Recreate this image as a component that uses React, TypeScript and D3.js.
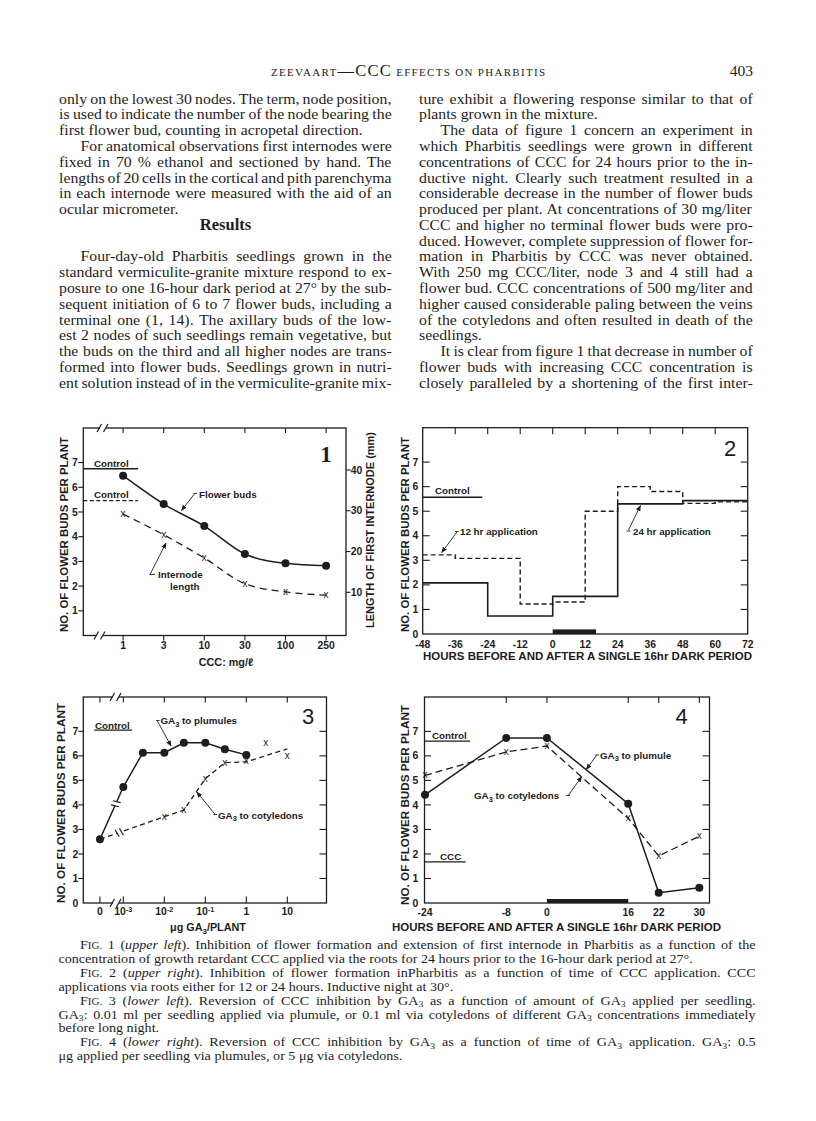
import React from "react";
import * as d3 from "d3";

const INK = "#1d1d1d";
const SANS = "'Liberation Sans', Arial, Helvetica, sans-serif";
const SERIF = "'Liberation Serif', 'Times New Roman', serif";

// ---------------- Figure 1 ----------------
const fig1Conc = ["1", "3", "10", "30", "100", "250"];
const fig1FlowerBuds = [6.47, 5.32, 4.43, 3.3, 2.92, 2.82];
const fig1Internode = [29.2, 24.1, 18.4, 12.1, 10.1, 9.3];
const fig1ControlBuds = 6.75;
const fig1ControlInternode = 32.5;
const fig1ControlSpan = [-0.98, 0.37];
const fig1BudTicks = [1, 2, 3, 4, 5, 6, 7];
const fig1MmTicks = [10, 20, 30, 40];

// ---------------- Figure 2 ----------------
const fig2Edges = [-48, -36, -24, -12, 0, 12, 24, 36, 48, 60, 72];
const fig2App24 = [2.08, 2.08, 0.73, 0.73, 1.53, 1.53, 5.3, 5.3, 5.43, 5.43];
const fig2App12 = [3.22, 3.08, 3.08, 1.22, 1.3, 5.0, 6.0, 5.8, 5.32, 5.38];
const fig2Control = 5.57;
const fig2ControlSpan = [-48, -26];
const fig2BudTicks = [0, 1, 2, 3, 4, 5, 6, 7];
const fig2HourTicks = [-48, -36, -24, -12, 0, 12, 24, 36, 48, 60, 72];
const darkPeriod = [0, 16];

// ---------------- Figure 3 ----------------
const fig3PlumDose = [0, 0.001, 0.003, 0.01, 0.03, 0.1, 0.3, 1];
const fig3PlumBuds = [2.6, 4.73, 6.13, 6.13, 6.53, 6.53, 6.27, 6.04];
const fig3CotLineDose = [0, 0.01, 0.03, 0.1, 0.3, 1, 10];
const fig3CotLineBuds = [2.6, 3.52, 3.79, 5.07, 5.72, 5.76, 6.28];
const fig3CotMarkDose = [0.01, 0.03, 0.1, 0.3, 1, 3, 10];
const fig3CotMarkBuds = [3.52, 3.79, 5.07, 5.72, 5.8, 6.53, 6.0];
const fig3Control = 7.05;
const fig3ControlSpan = [1.95e-4, 1.62e-3];
const fig3DoseTicks = [0, 0.001, 0.01, 0.1, 1, 10];
const fig3DoseLabels: [string, string][] = [["0", ""], ["10", "-3"], ["10", "-2"], ["10", "-1"], ["1", ""], ["10", ""]];
const fig3BudTicks = [0, 1, 2, 3, 4, 5, 6, 7];

// ---------------- Figure 4 ----------------
const fig4Hours = [-24, -8, 0, 16, 22, 30];
const fig4Plumule = [4.41, 6.73, 6.73, 4.05, 0.42, 0.62];
const fig4Cotyledons = [5.2, 6.16, 6.4, 3.45, 1.92, 2.72];
const fig4Control = 6.6;
const fig4ControlSpan = [-24, -15.1];
const fig4CCC = 1.68;
const fig4CCCSpan = [-24, -16];
const fig4BudTicks = [0, 1, 2, 3, 4, 5, 6, 7];

// ---------------- text ----------------
type BodyLine = { t: string; j?: boolean; ind?: boolean; head?: boolean } | null;
const leftColumn: BodyLine[] = [
  { t: "only on the lowest 30 nodes. The term, node position,", j: true },
  { t: "is used to indicate the number of the node bearing the", j: true },
  { t: "first flower bud, counting in acropetal direction." },
  { t: "For anatomical observations first internodes were", j: true, ind: true },
  { t: "fixed in 70 % ethanol and sectioned by hand. The", j: true },
  { t: "lengths of 20 cells in the cortical and pith parenchyma", j: true },
  { t: "in each internode were measured with the aid of an", j: true },
  { t: "ocular micrometer." },
  { t: "Results", head: true },
  null,
  { t: "Four-day-old Pharbitis seedlings grown in the", j: true, ind: true },
  { t: "standard vermiculite-granite mixture respond to ex-", j: true },
  { t: "posure to one 16-hour dark period at 27° by the sub-", j: true },
  { t: "sequent initiation of 6 to 7 flower buds, including a", j: true },
  { t: "terminal one (1, 14). The axillary buds of the low-", j: true },
  { t: "est 2 nodes of such seedlings remain vegetative, but", j: true },
  { t: "the buds on the third and all higher nodes are trans-", j: true },
  { t: "formed into flower buds. Seedlings grown in nutri-", j: true },
  { t: "ent solution instead of in the vermiculite-granite mix-", j: true },
];
const rightColumn: BodyLine[] = [
  { t: "ture exhibit a flowering response similar to that of", j: true },
  { t: "plants grown in the mixture." },
  { t: "The data of figure 1 concern an experiment in", j: true, ind: true },
  { t: "which Pharbitis seedlings were grown in different", j: true },
  { t: "concentrations of CCC for 24 hours prior to the in-", j: true },
  { t: "ductive night. Clearly such treatment resulted in a", j: true },
  { t: "considerable decrease in the number of flower buds", j: true },
  { t: "produced per plant. At concentrations of 30 mg/liter", j: true },
  { t: "CCC and higher no terminal flower buds were pro-", j: true },
  { t: "duced. However, complete suppression of flower for-", j: true },
  { t: "mation in Pharbitis by CCC was never obtained.", j: true },
  { t: "With 250 mg CCC/liter, node 3 and 4 still had a", j: true },
  { t: "flower bud. CCC concentrations of 500 mg/liter and", j: true },
  { t: "higher caused considerable paling between the veins", j: true },
  { t: "of the cotyledons and often resulted in death of the", j: true },
  { t: "seedlings." },
  { t: "It is clear from figure 1 that decrease in number of", j: true, ind: true },
  { t: "flower buds with increasing CCC concentration is", j: true },
  { t: "closely paralleled by a shortening of the first inter-", j: true },
];

type Seg = { t: string; k?: "i" | "sm" | "sub" };
const captionLines: { segs: Seg[]; ind?: boolean; j?: boolean }[] = [
  { ind: true, j: true, segs: [{ t: "F" }, { t: "IG.", k: "sm" }, { t: " 1 (" }, { t: "upper left", k: "i" }, { t: "). Inhibition of flower formation and extension of first internode in Pharbitis as a function of the" }] },
  { segs: [{ t: "concentration of growth retardant CCC applied via the roots for 24 hours prior to the 16-hour dark period at 27°." }] },
  { ind: true, j: true, segs: [{ t: "F" }, { t: "IG.", k: "sm" }, { t: " 2 (" }, { t: "upper right", k: "i" }, { t: "). Inhibition of flower formation inPharbitis as a function of time of CCC application. CCC" }] },
  { segs: [{ t: "applications via roots either for 12 or 24 hours. Inductive night at 30°." }] },
  { ind: true, j: true, segs: [{ t: "F" }, { t: "IG.", k: "sm" }, { t: " 3 (" }, { t: "lower left", k: "i" }, { t: "). Reversion of CCC inhibition by GA" }, { t: "3", k: "sub" }, { t: " as a function of amount of GA" }, { t: "3", k: "sub" }, { t: " applied per seedling." }] },
  { j: true, segs: [{ t: "GA" }, { t: "3", k: "sub" }, { t: ": 0.01 ml per seedling applied via plumule, or 0.1 ml via cotyledons of different GA" }, { t: "3", k: "sub" }, { t: " concentrations immediately" }] },
  { segs: [{ t: "before long night." }] },
  { ind: true, j: true, segs: [{ t: "F" }, { t: "IG.", k: "sm" }, { t: " 4 (" }, { t: "lower right", k: "i" }, { t: "). Reversion of CCC inhibition by GA" }, { t: "3", k: "sub" }, { t: " as a function of time of GA" }, { t: "3", k: "sub" }, { t: " application. GA" }, { t: "3", k: "sub" }, { t: ": 0.5" }] },
  { segs: [{ t: "μg applied per seedling via plumules, or 5 μg via cotyledons." }] },
];

// ---------------- helpers ----------------
let ctx: CanvasRenderingContext2D | null = null;
function measure(s: string, font: string): number {
  if (!ctx) ctx = document.createElement("canvas").getContext("2d");
  if (!ctx) return s.length * 6;
  ctx.font = font;
  return ctx.measureText(s).width;
}

const BODY_SIZE = 14;
const BODY_STRETCH = 1.13;
const CAP_SIZE = 12.6;
const CAP_STRETCH = 1.12;
function segFont(k?: string) {
  if (k === "i") return `italic ${CAP_SIZE}px "Liberation Serif"`;
  if (k === "sm") return `${CAP_SIZE * 0.78}px "Liberation Serif"`;
  if (k === "sub") return `${CAP_SIZE * 0.68}px "Liberation Serif"`;
  return `${CAP_SIZE}px "Liberation Serif"`;
}

function Column({ lines, x, width }: { lines: BodyLine[]; x: number; width: number }) {
  return (
    <g fontFamily={SERIF} fontSize={BODY_SIZE} fill={INK}>
      {lines.map((ln, i) => {
        if (!ln) return null;
        const y = 103.6 + i * 15.78;
        if (ln.head) {
          return (
            <text key={i} x={x + width / 2} y={y + 0.5} textAnchor="middle" fontWeight="bold" fontSize={16.5}>
              {ln.t}
            </text>
          );
        }
        const x0 = ln.ind ? x + 21.5 : x;
        const w = x + width - x0;
        const words = ln.t.trim().split(/\s+/);
        const s = words.join(" ");
        let ws = 0;
        if (ln.j && words.length > 1) {
          const nat = measure(s, `${BODY_SIZE}px "Liberation Serif"`);
          ws = (w / BODY_STRETCH - nat) / (words.length - 1);
        }
        return (
          <text key={i} transform={`translate(${x0},${y}) scale(${BODY_STRETCH},1)`} style={{ wordSpacing: `${ws}px` }}>
            {s}
          </text>
        );
      })}
    </g>
  );
}

function Caption() {
  const left = 58.5, right = 756, indent = 80;
  return (
    <g fontFamily={SERIF} fontSize={CAP_SIZE} fill={INK}>
      {captionLines.map((ln, i) => {
        const y = 949 + i * 13.9;
        const x0 = ln.ind ? indent : left;
        const segs = ln.segs.map((s) => ({ ...s, t: s.t.replace(/\s+/g, " ") }));
        let nat = 0, spaces = 0;
        segs.forEach((s) => {
          nat += measure(s.t, segFont(s.k));
          spaces += (s.t.match(/ /g) || []).length;
        });
        const ws = ln.j && spaces ? ((right - x0) / CAP_STRETCH - nat) / spaces : 0;
        let shift = 0;
        return (
          <text key={i} transform={`translate(${x0},${y}) scale(${CAP_STRETCH},1)`} style={{ wordSpacing: `${ws}px` }}>
            {segs.map((s, k) => {
              const target = s.k === "sub" ? 2.8 : 0;
              const dy = target - shift;
              shift = target;
              return (
                <tspan
                  key={k}
                  dy={dy !== 0 ? dy : undefined}
                  fontStyle={s.k === "i" ? "italic" : undefined}
                  fontSize={s.k === "sm" ? CAP_SIZE * 0.78 : s.k === "sub" ? CAP_SIZE * 0.68 : undefined}
                >
                  {s.t}
                </tspan>
              );
            })}
          </text>
        );
      })}
    </g>
  );
}

function BreakMark({ cx, cy }: { cx: number; cy: number }) {
  return (
    <g stroke={INK} strokeWidth={1.2}>
      <rect x={cx - 3} y={cy - 2} width={6} height={4} fill="white" stroke="none" />
      <line x1={cx - 6} y1={cy + 4} x2={cx - 1.5} y2={cy - 4} />
      <line x1={cx + 0.5} y1={cy + 4} x2={cx + 5} y2={cy - 4} />
    </g>
  );
}

function LineBreak({ px, py, ang }: { px: number; py: number; ang: number }) {
  return (
    <g transform={`translate(${px},${py}) rotate(${ang})`} stroke={INK} strokeWidth={1.2}>
      <rect x={-2.2} y={-3} width={4.4} height={6} fill="white" stroke="none" />
      <line x1={-3} y1={-4} x2={-1.5} y2={4} />
      <line x1={1.5} y1={-4} x2={3} y2={4} />
    </g>
  );
}

function VText({ x, y, text, len, size = 10.5 }: { x: number; y: number; text: string; len: number; size?: number }) {
  return (
    <text
      transform={`translate(${x},${y}) rotate(-90)`}
      textAnchor="middle"
      dy="0.36em"
      fontFamily={SANS}
      fontWeight="bold"
      fontSize={size}
      textLength={len}
      lengthAdjust="spacingAndGlyphs"
      fill={INK}
    >
      {text}
    </text>
  );
}

function XMark({ x, y }: { x: number; y: number }) {
  return (
    <text x={x} y={y} dy="0.3em" textAnchor="middle" fontFamily={SANS} fontSize={10} fill={INK}>
      x
    </text>
  );
}

const lbl = { fontFamily: SANS, fontWeight: "bold" as const, fontSize: 9.8, fill: INK };
const TICKFS = 10.4;

// ---------------- Figure 1 ----------------
function Fig1() {
  const L = 83.3, R = 346, T = 428, B = 635.5;
  const x = d3.scaleLinear().domain([-0.98, 5.49]).range([L, R]);
  const y = d3.scaleLinear().domain([0, 8.4]).range([B, T]);
  const yMm = d3.scaleLinear().domain([-0.6, 50.3]).range([B, T]);
  const idx = fig1Conc.map((_, i) => i);
  const budPath = d3.line<number>().x((i) => x(i)).y((i) => y(fig1FlowerBuds[i])).curve(d3.curveMonotoneX)(idx) || "";
  const intPath = d3.line<number>().x((i) => x(i)).y((i) => yMm(fig1Internode[i])).curve(d3.curveMonotoneX)(idx) || "";
  return (
    <g>
      <rect x={L} y={T} width={R - L} height={B - T} fill="none" stroke={INK} strokeWidth={1.3} />
      <BreakMark cx={103} cy={T} />
      <BreakMark cx={100} cy={B} />
      <g stroke={INK} strokeWidth={1.1}>
        {idx.map((i) => (
          <g key={i}>
            <line x1={x(i)} x2={x(i)} y1={T} y2={T + 5} />
            <line x1={x(i)} x2={x(i)} y1={B} y2={B + 5} />
          </g>
        ))}
        {fig1BudTicks.map((v) => (
          <line key={v} x1={L - 5} x2={L} y1={y(v)} y2={y(v)} />
        ))}
        {fig1MmTicks.map((v) => (
          <line key={v} x1={R} x2={R + 4.5} y1={yMm(v)} y2={yMm(v)} />
        ))}
      </g>
      <g {...lbl}>
        {idx.map((i) => (
          <text key={i} x={x(i)} y={B + 13} textAnchor="middle" fontSize={TICKFS}>{fig1Conc[i]}</text>
        ))}
        {fig1BudTicks.map((v) => (
          <text key={v} x={L - 5.5} y={y(v) + 3.6} textAnchor="end" fontSize={TICKFS}>{v}</text>
        ))}
        {fig1MmTicks.map((v) => (
          <text key={v} x={R + 4.8} y={yMm(v) + 3.6} fontSize={TICKFS}>{v}</text>
        ))}
        <text x={226} y={666} textAnchor="middle" fontSize={10.8}>CCC: mg/ℓ</text>
        <text x={94} y={466.5}>Control</text>
        <text x={94} y={497.5}>Control</text>
        <text x={199} y={497.5}>Flower buds</text>
        <text x={158} y={577.5}>Internode</text>
        <text x={170} y={589.5}>length</text>
      </g>
      <VText x={63.8} y={534.5} text="NO. OF FLOWER BUDS PER PLANT" len={195} />
      <VText x={370} y={530} text="LENGTH OF FIRST INTERNODE (mm)" len={196} />
      <text x={326} y={462} textAnchor="middle" fontFamily={SERIF} fontWeight="bold" fontSize={23} fill={INK}>1</text>
      <line x1={x(fig1ControlSpan[0])} x2={x(fig1ControlSpan[1])} y1={y(fig1ControlBuds)} y2={y(fig1ControlBuds)} stroke={INK} strokeWidth={1.4} />
      <line x1={x(fig1ControlSpan[0])} x2={x(fig1ControlSpan[1])} y1={yMm(fig1ControlInternode)} y2={yMm(fig1ControlInternode)} stroke={INK} strokeWidth={1.3} strokeDasharray="4 2.5" />
      <path d={budPath} fill="none" stroke={INK} strokeWidth={1.5} />
      <path d={intPath} fill="none" stroke={INK} strokeWidth={1.3} strokeDasharray="7 5" />
      {idx.map((i) => (
        <circle key={i} cx={x(i)} cy={y(fig1FlowerBuds[i])} r={4} fill={INK} />
      ))}
      {idx.map((i) => (
        <XMark key={i} x={x(i)} y={yMm(fig1Internode[i])} />
      ))}
      <g stroke={INK} strokeWidth={0.9} fill="none">
        <line x1={193.5} y1={493.5} x2={197} y2={493.5} />
        <line x1={194.5} y1={493.8} x2={181.5} y2={510.5} markerEnd="url(#arr)" />
        <line x1={149.5} y1={574.5} x2={155} y2={574.5} />
        <line x1={150} y1={574.5} x2={166} y2={543} markerEnd="url(#arr)" />
      </g>
    </g>
  );
}

// ---------------- Figure 2 ----------------
function Fig2() {
  const L = 422.7, R = 747.7, T = 427.7, B = 634;
  const x = d3.scaleLinear().domain([-48, 72]).range([L, R]);
  const y = d3.scaleLinear().domain([0, 8.4]).range([B, T]);
  const step = d3.line<number[]>().x((d) => x(d[0])).y((d) => y(d[1])).curve(d3.curveStepAfter);
  const pts = (vals: number[]) => fig2Edges.map((e, i) => [e, vals[Math.min(i, vals.length - 1)]]);
  return (
    <g>
      <rect x={L} y={T} width={R - L} height={B - T} fill="none" stroke={INK} strokeWidth={1.3} />
      <g stroke={INK} strokeWidth={1.1}>
        {fig2HourTicks.slice(1, -1).map((h) => (
          <line key={h} x1={x(h)} x2={x(h)} y1={T} y2={T + 6.5} />
        ))}
        {fig2BudTicks.slice(1).map((v) => (
          <g key={v}>
            <line x1={L} x2={L + 7} y1={y(v)} y2={y(v)} />
            <line x1={R - 7} x2={R} y1={y(v)} y2={y(v)} />
          </g>
        ))}
      </g>
      <g {...lbl}>
        {fig2HourTicks.map((h) => (
          <text key={h} x={x(h)} y={647.5} textAnchor="middle" fontSize={TICKFS}>{h}</text>
        ))}
        {fig2BudTicks.map((v) => (
          <text key={v} x={418.3} y={y(v) + 3.6} textAnchor="end" fontSize={TICKFS}>{v}</text>
        ))}
        <text x={423} y={659.8} fontSize={10.8} textLength={329} lengthAdjust="spacingAndGlyphs">HOURS BEFORE AND AFTER A SINGLE 16hr DARK PERIOD</text>
        <text x={435} y={494.2}>Control</text>
        <text x={460} y={535}>12 hr application</text>
        <text x={633} y={534.5}>24 hr application</text>
      </g>
      <VText x={405} y={534.5} text="NO. OF FLOWER BUDS PER PLANT" len={195} />
      <text x={730} y={455.5} textAnchor="middle" fontFamily={SANS} fontSize={22} fill={INK}>2</text>
      <line x1={x(fig2ControlSpan[0])} x2={x(fig2ControlSpan[1])} y1={y(fig2Control)} y2={y(fig2Control)} stroke={INK} strokeWidth={1.4} />
      <rect x={x(darkPeriod[0])} y={B - 4.6} width={x(darkPeriod[1]) - x(darkPeriod[0])} height={4.6} fill={INK} />
      <path d={step(pts(fig2App12)) || ""} fill="none" stroke={INK} strokeWidth={1.4} strokeDasharray="5 3" />
      <path d={step(pts(fig2App24)) || ""} fill="none" stroke={INK} strokeWidth={1.6} />
      <g stroke={INK} strokeWidth={0.9} fill="none">
        <line x1={455} y1={531.5} x2={458.5} y2={531.5} />
        <line x1={457} y1={532} x2={441.7} y2={552.5} markerEnd="url(#arr)" />
        <line x1={626.5} y1={531} x2={630.5} y2={531} />
        <line x1={628.5} y1={530} x2={640.5} y2={505.5} markerEnd="url(#arr)" />
      </g>
    </g>
  );
}

// ---------------- Figure 3 ----------------
function Fig3() {
  const L = 83.3, R = 326.5, T = 697, B = 903;
  const x = d3.scaleLog().domain([Math.pow(10, -3.976), Math.pow(10, 1.956)]).range([L, R]);
  const zeroAt = Math.pow(10, -3.57);
  const xp = (d: number) => (d === 0 ? x(zeroAt) : x(d));
  const y = d3.scaleLinear().domain([0, 8.4]).range([B, T]);
  const plum = fig3PlumDose.map((d, i) => [xp(d), y(fig3PlumBuds[i])]);
  const cot = fig3CotLineDose.map((d, i) => [xp(d), y(fig3CotLineBuds[i])]);
  const line = d3.line<number[]>().x((d) => d[0]).y((d) => d[1]);
  const brk = (a: number[], b: number[], t: number) => {
    const px = a[0] + (b[0] - a[0]) * t, py = a[1] + (b[1] - a[1]) * t;
    const ang = (Math.atan2(b[1] - a[1], b[0] - a[0]) * 180) / Math.PI;
    return { px, py, ang };
  };
  const b1 = brk(plum[0], plum[1], 0.68);
  const b2 = brk(cot[0], cot[1], 0.3);
  return (
    <g>
      <rect x={L} y={T} width={R - L} height={B - T} fill="none" stroke={INK} strokeWidth={1.3} />
      <BreakMark cx={116} cy={T} />
      <BreakMark cx={116} cy={B} />
      <g stroke={INK} strokeWidth={1.1}>
        {fig3DoseTicks.map((d) => (
          <g key={d}>
            <line x1={xp(d)} x2={xp(d)} y1={T} y2={T + 5.5} />
            <line x1={xp(d)} x2={xp(d)} y1={B} y2={B - 6.5} />
          </g>
        ))}
        {fig3BudTicks.slice(1).map((v) => (
          <g key={v}>
            <line x1={L - 5} x2={L} y1={y(v)} y2={y(v)} />
            <line x1={R - 7} x2={R} y1={y(v)} y2={y(v)} />
          </g>
        ))}
      </g>
      <g {...lbl}>
        {fig3DoseTicks.map((d, i) => (
          <text key={d} x={xp(d)} y={915} textAnchor="middle" fontSize={TICKFS}>
            {fig3DoseLabels[i][0]}
            {fig3DoseLabels[i][1] ? (
              <tspan dy={-3.5} fontSize={7.2}>{fig3DoseLabels[i][1]}</tspan>
            ) : null}
          </text>
        ))}
        {fig3BudTicks.map((v) => (
          <text key={v} x={78.3} y={y(v) + 3.6} textAnchor="end" fontSize={TICKFS}>{v}</text>
        ))}
        <text x={208} y={931} textAnchor="middle" fontSize={10.8}>
          μg GA<tspan dy={3} fontSize={8}>3</tspan><tspan dy={-3}>/PLANT</tspan>
        </text>
        <text x={95} y={728.5}>Control</text>
        <text x={160.5} y={724}>
          GA<tspan dy={2.5} fontSize={7.5}>3</tspan><tspan dy={-2.5}> to plumules</tspan>
        </text>
        <text x={218} y={818.5}>
          GA<tspan dy={2.5} fontSize={7.5}>3</tspan><tspan dy={-2.5}> to cotyledons</tspan>
        </text>
      </g>
      <VText x={61.7} y={803} text="NO. OF FLOWER BUDS PER PLANT" len={200} />
      <text x={308} y={723.5} textAnchor="middle" fontFamily={SANS} fontSize={22} fill={INK}>3</text>
      <line x1={x(fig3ControlSpan[0])} x2={x(fig3ControlSpan[1])} y1={y(fig3Control)} y2={y(fig3Control)} stroke={INK} strokeWidth={1.3} />
      <path d={line(cot) || ""} fill="none" stroke={INK} strokeWidth={1.3} strokeDasharray="5 3.5" />
      <path d={line(plum) || ""} fill="none" stroke={INK} strokeWidth={1.5} />
      <LineBreak {...b1} />
      <LineBreak {...b2} />
      {plum.map((p, i) => (
        <circle key={i} cx={p[0]} cy={p[1]} r={4} fill={INK} />
      ))}
      {fig3CotMarkDose.map((d, i) => (
        <XMark key={i} x={xp(d)} y={y(fig3CotMarkBuds[i])} />
      ))}
      <g stroke={INK} strokeWidth={0.9} fill="none">
        <line x1={156} y1={720.5} x2={159.5} y2={720.5} />
        <line x1={157.3} y1={720.8} x2={171} y2={746} markerEnd="url(#arr)" />
        <line x1={213.5} y1={814.5} x2={217} y2={814.5} />
        <line x1={215} y1={814.3} x2={196.8} y2={792} markerEnd="url(#arr)" />
      </g>
    </g>
  );
}

// ---------------- Figure 4 ----------------
function Fig4() {
  const L = 424.5, R = 709.5, T = 697, B = 903;
  const x = d3.scaleLinear().domain([-24, 32]).range([425, 709.5]);
  const y = d3.scaleLinear().domain([0, 8.4]).range([B, T]);
  const line = d3.line<number>().x((_, i) => x(fig4Hours[i])).y((d) => y(d));
  return (
    <g>
      <rect x={L} y={T} width={R - L} height={B - T} fill="none" stroke={INK} strokeWidth={1.3} />
      <g stroke={INK} strokeWidth={1.1}>
        {fig4Hours.slice(1).map((h) => (
          <line key={h} x1={x(h)} x2={x(h)} y1={T} y2={T + 6} />
        ))}
        {fig4BudTicks.slice(1).map((v) => (
          <g key={v}>
            <line x1={L} x2={L + 6.5} y1={y(v)} y2={y(v)} />
            <line x1={R - 7} x2={R} y1={y(v)} y2={y(v)} />
          </g>
        ))}
      </g>
      <g {...lbl}>
        {fig4Hours.map((h) => (
          <text key={h} x={x(h)} y={915.5} textAnchor="middle" fontSize={TICKFS}>{h}</text>
        ))}
        {fig4BudTicks.map((v) => (
          <text key={v} x={418.3} y={y(v) + 3.6} textAnchor="end" fontSize={TICKFS}>{v}</text>
        ))}
        <text x={392} y={930.8} fontSize={10.8} textLength={329} lengthAdjust="spacingAndGlyphs">HOURS BEFORE AND AFTER A SINGLE 16hr DARK PERIOD</text>
        <text x={432} y={738.5}>Control</text>
        <text x={440} y={860}>CCC</text>
        <text x={600} y={758.5}>
          GA<tspan dy={2.5} fontSize={7.5}>3</tspan><tspan dy={-2.5}> to plumule</tspan>
        </text>
        <text x={474} y={799}>
          GA<tspan dy={2.5} fontSize={7.5}>3</tspan><tspan dy={-2.5}> to cotyledons</tspan>
        </text>
      </g>
      <VText x={405} y={805} text="NO. OF FLOWER BUDS PER PLANT" len={200} />
      <text x={681.7} y={723.5} textAnchor="middle" fontFamily={SANS} fontSize={22} fill={INK}>4</text>
      <line x1={x(fig4ControlSpan[0])} x2={x(fig4ControlSpan[1])} y1={y(fig4Control)} y2={y(fig4Control)} stroke={INK} strokeWidth={1.3} />
      <line x1={x(fig4CCCSpan[0])} x2={x(fig4CCCSpan[1])} y1={y(fig4CCC)} y2={y(fig4CCC)} stroke={INK} strokeWidth={1.3} />
      <rect x={x(darkPeriod[0])} y={B - 4} width={x(darkPeriod[1]) - x(darkPeriod[0])} height={4} fill={INK} />
      <path d={line(fig4Cotyledons) || ""} fill="none" stroke={INK} strokeWidth={1.3} strokeDasharray="7 4" />
      <path d={line(fig4Plumule) || ""} fill="none" stroke={INK} strokeWidth={1.5} />
      {fig4Plumule.map((v, i) => (
        <circle key={i} cx={x(fig4Hours[i])} cy={y(v)} r={4} fill={INK} />
      ))}
      {fig4Cotyledons.map((v, i) => (
        <XMark key={i} x={x(fig4Hours[i])} y={y(v)} />
      ))}
      <g stroke={INK} strokeWidth={0.9} fill="none">
        <line x1={595} y1={755} x2={599} y2={755} />
        <line x1={596.5} y1={755.5} x2={586.3} y2={769.5} markerEnd="url(#arr)" />
        <line x1={566} y1={795.5} x2={570} y2={795.5} />
        <line x1={568.3} y1={795.5} x2={581.7} y2={776.5} markerEnd="url(#arr)" />
      </g>
    </g>
  );
}

export default function App() {
  return (
    <svg
      width={816}
      height={1121}
      viewBox="0 0 816 1121"
      style={{ position: "absolute", left: 0, top: 0, background: "white" }}
    >
      <defs>
        <marker id="arr" viewBox="0 0 10 10" refX="9" refY="5" markerWidth="6" markerHeight="6" markerUnits="userSpaceOnUse" orient="auto">
          <path d="M0,1 L10,5 L0,9 z" fill={INK} />
        </marker>
      </defs>
      <rect x={0} y={0} width={816} height={1121} fill="white" />
      <text x={271} y={76} fontFamily={SERIF} fill={INK} textLength={274} lengthAdjust="spacing">
        <tspan fontSize={11}>ZEEVAART</tspan>
        <tspan fontSize={16.5}>—CCC</tspan>
        <tspan fontSize={11}> EFFECTS ON PHARBITIS</tspan>
      </text>
      <text x={753} y={76} textAnchor="end" fontFamily={SERIF} fontSize={15.5} fill={INK}>403</text>
      <Column lines={leftColumn} x={59} width={333} />
      <Column lines={rightColumn} x={419} width={334} />
      <Fig1 />
      <Fig2 />
      <Fig3 />
      <Fig4 />
      <Caption />
    </svg>
  );
}
